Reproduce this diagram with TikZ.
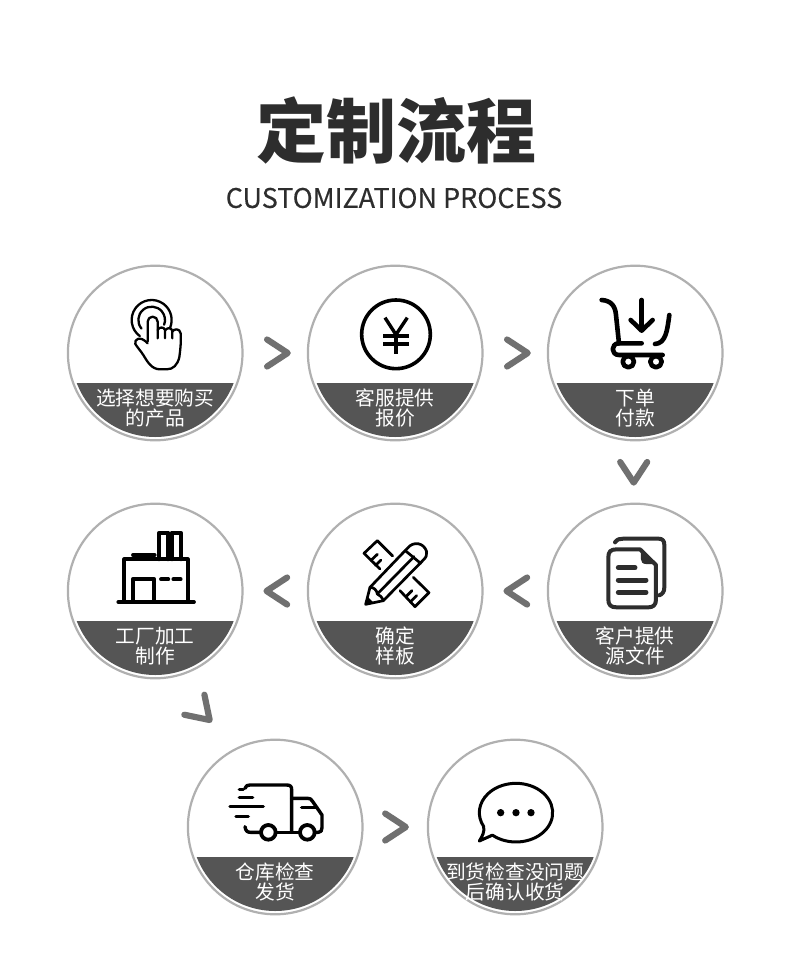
\documentclass[tikz,border=0pt]{standalone}
\usepackage{fontspec}
\setmainfont{Noto Sans CJK SC}
\usetikzlibrary{calc}
\definecolor{RingGray}{RGB}{176,176,176}
\definecolor{BandGray}{RGB}{85,85,85}
\definecolor{ChevGray}{RGB}{112,112,112}
\definecolor{TitleInk}{RGB}{45,45,45}
\definecolor{DocInk}{RGB}{45,45,45}
\tikzset{
  stepbox/.style={circle,draw=RingGray,line width=2.2pt,fill=white,
                  minimum size=174.6pt,inner sep=0pt,
                  path picture={
                    \clip (path picture bounding box.center) circle [radius=84pt];
                    \fill[BandGray] ([xshift=-90pt,yshift=-30pt]path picture bounding box.center)
                      rectangle ([xshift=90pt,yshift=-90pt]path picture bounding box.center);
                  }},
  captext/.style={text=white,align=center,inner sep=0pt,
                  font=\fontsize{19.7pt}{19.7pt}\selectfont},
  chev/.pic={\draw[ChevGray,line width=6.2pt,line cap=round,line join=round]
             (-10,-13.5) -- (10.6,0) -- (-10,13.5);},
  ico/.style={draw=black,line width=#1,line cap=round,line join=round},
  ico/.default=2.3pt,
}

\begin{document}
\begin{tikzpicture}[x=1pt,y=-1pt]
    \useasboundingbox (0,0) rectangle (790,975);
    \fill[white] (0,0) rectangle (790,975);

    \node[text=TitleInk,inner sep=0pt,font=\fontsize{70pt}{70pt}\selectfont\bfseries] (title) at (396,130) {定制流程};
    \node[text=TitleInk,inner sep=0pt,font=\fontsize{27pt}{28pt}\selectfont\addfontfeature{FakeBold=0.25}] (subtitle) at (394,198) {CUSTOMIZATION PROCESS};

    \node[stepbox] (stepa) at (155.2,353) {};
    \node[stepbox] (stepb) at (395.2,353) {};
    \node[stepbox] (stepc) at (635.2,353) {};
    \node[stepbox] (stepd) at (635.2,591) {};
    \node[stepbox] (stepe) at (395.2,591) {};
    \node[stepbox] (stepf) at (155.2,591) {};
    \node[stepbox] (stepg) at (275.2,827) {};
    \node[stepbox] (steph) at (515.2,827) {};

    \node[captext] (capa) at ([yshift=-55.2pt]stepa.center) {选择想要购买\\的产品};
    \node[captext] (capb) at ([yshift=-55.2pt]stepb.center) {客服提供\\报价};
    \node[captext] (capc) at ([yshift=-55.2pt]stepc.center) {下单\\付款};
    \node[captext] (capd) at ([yshift=-55.2pt]stepd.center) {客户提供\\源文件};
    \node[captext] (cape) at ([yshift=-55.2pt]stepe.center) {确定\\样板};
    \node[captext] (capf) at ([yshift=-55.2pt]stepf.center) {工厂加工\\制作};
    \node[captext] (capg) at ([yshift=-55.2pt]stepg.center) {仓库检查\\发货};
    \node[captext] (caph) at ([yshift=-55.2pt]steph.center) {到货检查没问题\\后确认收货};

    \path (stepa) -- pic[pos=.53,sloped,allow upside down]{chev} (stepb);
    \path (stepb) -- pic[pos=.53,sloped,allow upside down]{chev} (stepc);
    \path (stepc) -- pic[pos=.5,sloped,allow upside down,yshift=-1.5pt]{chev} (stepd);
    \path (stepd) -- pic[pos=.47,sloped,allow upside down]{chev} (stepe);
    \path (stepe) -- pic[pos=.47,sloped,allow upside down]{chev} (stepf);
    \path (stepf) -- pic[pos=.54,xshift=-15pt,rotate=-45,scale=1.05]{chev} (stepg);
    \path (stepg) -- pic[pos=.5,sloped,allow upside down]{chev} (steph);

    % hand
    \begin{scope}[shift={(60,260)},scale=0.3333]
      \draw[ico] (239.7,228.5) arc (126:384:60);
      \draw[ico] (244.4,205.7) arc (140:381:40);
      \draw[ico] (263,245) -- (263,185) arc (180:360:15) -- (293,235);
      \draw[ico] (293,210) .. controls (298,200) and (312,200) .. (315,210) -- (315,235);
      \draw[ico] (315,212) .. controls (320,202) and (334,202) .. (337,212) -- (337,235);
      \draw[ico] (337,215) .. controls (342,205) and (360,205) .. (362,220)
        .. controls (364,250) and (360,275) .. (358,292)
        .. controls (352,315) and (340,328) .. (320,328)
        -- (300,328) .. controls (275,328) and (262,305) .. (250,285)
        .. controls (240,270) and (232,262) .. (226,252)
        .. controls (222,238) and (240,225) .. (263,250);
    \end{scope}

    % yen
    \begin{scope}[shift={(300,260)},scale=0.3333]
      \draw[ico=3.6pt] (288,223) circle (103);
      \draw[ico=3.4pt,line cap=butt,line join=miter] (255,173) -- (288,224) -- (322,173);
      \draw[ico=3.4pt,line cap=butt] (288,224) -- (288,282);
      \draw[ico=3.4pt,line cap=butt] (250,228) -- (328,228);
      \draw[ico=3.4pt,line cap=butt] (250,252) -- (328,252);
    \end{scope}

    % cart
    \begin{scope}[shift={(540,260)},scale=0.3333]
      \draw[ico=4.6pt] (185,120) .. controls (215,122) and (226,140) .. (228,165) -- (237,250);
      \draw[ico=4.6pt] (305,250) -- (237,250) .. controls (212,250) and (212,285) .. (237,285) -- (368,285);
      \draw[ico=4.6pt] (388,165) .. controls (382,210) and (378,250) .. (345,252);
      \draw[ico=4.6pt] (305,120) -- (305,210);
      \draw[ico=4.6pt] (272,180) -- (305,212) -- (338,180);
      \draw[ico=4.6pt,fill=white] (265,305) circle (17);
      \draw[ico=4.6pt,fill=white] (348,305) circle (17);
    \end{scope}

    % documents
    \begin{scope}[shift={(540,500)},scale=0.3333]
      \draw[ico=4pt,draw=DocInk] (225,127) .. controls (232,117) and (240,116) .. (250,116) -- (355,116)
        .. controls (368,116) and (373,122) .. (373,135) -- (373,262) .. controls (373,275) and (368,282) .. (358,286);
      \draw[ico=4pt,draw=DocInk] (230,148) -- (300,148) -- (348,195) -- (348,298)
        .. controls (348,315) and (340,322) .. (325,322) -- (230,322)
        .. controls (212,322) and (205,315) .. (205,298) -- (205,172)
        .. controls (205,155) and (212,148) .. (230,148) -- cycle;
      \fill[DocInk] (303,150) -- (346,192) -- (318,192) .. controls (308,192) and (303,186) .. (303,178) -- cycle;
      \draw[ico=5pt,draw=DocInk] (235,203) -- (285,203);
      \draw[ico=5pt,draw=DocInk] (235,240) -- (318,240);
      \draw[ico=5pt,draw=DocInk] (235,277) -- (318,277);
    \end{scope}

    % pencil and ruler
    \begin{scope}[shift={(300,500)},scale=0.3333]
      \draw[ico=2.7pt] (278,168) -- (232,122) -- (192,160) -- (240,207);
      \draw[ico=2.7pt] (213,181) -- (232,163);
      \draw[ico=2.7pt] (227,196) -- (243,180);
      \draw[ico=2.7pt] (340,232) -- (387,278) -- (345,320) -- (300,272);
      \draw[ico=2.7pt] (318,290) -- (336,272);
      \draw[ico=2.7pt] (332,305) -- (350,287);
      \draw[ico=2.7pt] (197,313) -- (210,262) -- (322,145)
        .. controls (340,122) and (372,128) .. (380,155)
        .. controls (382,165) and (378,172) .. (370,180) -- (250,302) -- cycle;
      \draw[ico=2.7pt] (210,262) .. controls (222,262) and (230,270) .. (232,282) .. controls (240,285) and (246,292) .. (250,302);
      \draw[ico=2.7pt] (232,282) -- (342,170);
      \draw[ico=2.7pt] (316,152) -- (362,190);
      \fill (197,313) -- (203,290) -- (220,307) -- cycle;
    \end{scope}

    % factory
    \begin{scope}[shift={(60,500)},scale=0.3333]
      \draw[ico=3.8pt] (175,306) -- (402,306);
      \draw[ico=3.8pt] (193,306) -- (193,178) -- (383,178) -- (383,306);
      \draw[ico=3.8pt] (298,178) -- (298,98) -- (325,98) -- (325,178);
      \draw[ico=3.8pt] (335,178) -- (335,98) -- (362,98) -- (362,178);
      \draw[ico=3.8pt] (219,165) -- (284,165);
      \draw[ico=3.8pt] (218,306) -- (218,238) -- (283,238) -- (283,306);
      \draw[ico=3.8pt] (303,238) -- (325,238);
      \draw[ico=3.8pt] (340,238) -- (362,238);
    \end{scope}

    % truck
    \begin{scope}[shift={(180,735)},scale=0.3333]
      \draw[ico=3.4pt] (195,160) .. controls (198,152) and (202,150) .. (210,150) -- (320,150)
        .. controls (332,150) and (335,155) .. (335,165) -- (335,292);
      \draw[ico=3.4pt] (195,275) .. controls (197,288) and (202,292) .. (212,292) -- (243,292);
      \draw[ico=3.4pt] (287,292) -- (360,292);
      \draw[ico=3.4pt] (404,292) -- (415,292) .. controls (423,292) and (426,287) .. (426,278)
        -- (426,240) -- (397,198) .. controls (393,192) and (390,190) .. (383,190) -- (335,190);
      \draw[ico=3.4pt] (365,218) -- (410,218);
      \draw[ico=3.4pt] (178,163) -- (190,163);
      \draw[ico=3.4pt] (178,188) -- (218,188);
      \draw[ico=3.4pt] (150,214) -- (250,214);
      \draw[ico=3.4pt] (168,245) -- (205,245);
      \draw[ico=3.8pt] (265,292) circle (22);
      \draw[ico=3.8pt] (382,292) circle (22);
    \end{scope}

    % chat bubble
    \begin{scope}[shift={(420,735)},scale=0.3333]
      \draw[ico=3pt] (217.3,300.4) arc (130:-208:110 and 88)
        .. controls (194,290) and (188,302) .. (178,318) -- cycle;
      \fill (242,233) circle (11);
      \fill (288,233) circle (11);
      \fill (333,233) circle (11);
    \end{scope}
\end{tikzpicture}
\end{document}
